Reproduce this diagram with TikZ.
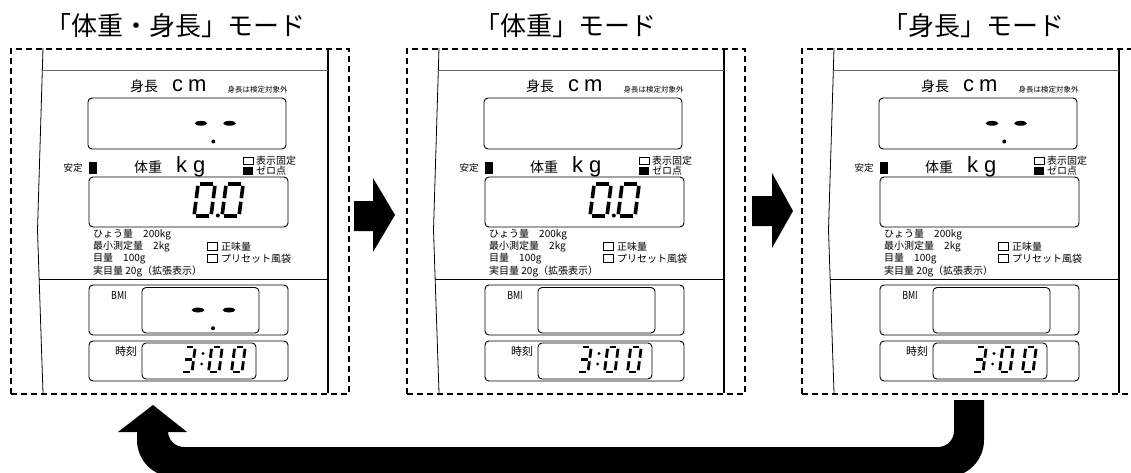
\documentclass[tikz,border=0pt]{standalone}
\usepackage{fontspec}
\setmainfont{Noto Sans CJK JP}
\newfontfamily\lat{Liberation Sans}
\newcommand\fs[1]{\fontsize{#1}{#1}\selectfont}
% seven segment helpers
\def\sslant{0.13}
\def\sgap{1.8}
\def\sga{\draw[sg] ({\sgap+\sslant*\SH},\SH) -- ({\SW-\sgap+\sslant*\SH},\SH);}
\def\sgb{\draw[sg] ({\SW+\sslant*(\SH-\sgap)},{\SH-\sgap}) -- ({\SW+\sslant*(\SH/2+\sgap)},{\SH/2+\sgap});}
\def\sgc{\draw[sg] ({\SW+\sslant*(\SH/2-\sgap)},{\SH/2-\sgap}) -- ({\SW+\sslant*\sgap},\sgap);}
\def\sgd{\draw[sg] (\sgap,0) -- ({\SW-\sgap},0);}
\def\sge{\draw[sg] ({\sslant*\sgap},\sgap) -- ({\sslant*(\SH/2-\sgap)},{\SH/2-\sgap});}
\def\sgf{\draw[sg] ({\sslant*(\SH/2+\sgap)},{\SH/2+\sgap}) -- ({\sslant*(\SH-\sgap)},{\SH-\sgap});}
\def\sgg{\draw[sg] ({\sgap+\sslant*\SH/2},{\SH/2}) -- ({\SW-\sgap+\sslant*\SH/2},{\SH/2});}
\newcommand\sseg[6]{%
  \begin{scope}[shift={(#1,#2)},yscale=-1,line width=#5pt]
  \def\SW{#3}\def\SH{#4}#6
  \end{scope}}
\newcommand\dashdot[4]{% x1, x2, y, dot x
  \fill (#1,#3) ellipse[x radius=6.3pt, y radius=2.4pt];
  \fill (#2,#3) ellipse[x radius=6.3pt, y radius=2.4pt];
  \fill (#4,{#3+18.2}) circle[radius=2pt];}
\newcommand\panel[5]{% xshift, suffix, height shown, weight shown, bmi shown
 \begin{scope}[xshift=#1]
  \node[frame] (p#2) at (10,48) {};
  \draw[line width=0.8pt] (43,48) -- (37.5,230) -- (43,393);
  \draw[line width=1.8pt] (328,48) -- (328,393);
  \draw[line width=0.9pt, black!60] (42.6,70) -- (328,70);
  \draw[line width=0.9pt] (39.3,279) -- (328,279);
  % height
  \node[inner sep=0, anchor=base west] (hl#2) at (130,92) {\fs{14}身長\hspace{14pt}{\lat\fs{22}c\hspace{5pt}m}};
  \node[inner sep=0] (hn#2) at (257.5,90) {\fs{7.5}身長は検定対象外};
  \draw[box] (88,98) rectangle (286,149);
  \ifnum#3=1 \dashdot{201}{229.5}{123.3}{213.3}\fi
  % weight
  \node[inner sep=0] (st#2) at (73,168) {\fs{9.5}安定};
  \fill (88.5,162) rectangle (97.3,174.3);
  \node[inner sep=0, anchor=base west] (wl#2) at (134,172) {\fs{14}体重\hspace{14pt}{\lat\fs{22}k\hspace{6pt}g}};
  \draw[line width=0.8pt, fill=white] (243,157) rectangle (253,164);
  \fill (243,167) rectangle (253,175);
  \node[txt] (hk#2) at (256,160.5) {\fs{10}表示固定};
  \node[txt] (zr#2) at (256,171) {\fs{10}ゼロ点};
  \draw[box] (89,177) rectangle (288,227);
  \ifnum#4=1
   \sseg{194}{216}{17}{32}{3.6}{\sga\sgb\sgc\sgd\sge\sgf}
   \sseg{222}{216}{17}{32}{3.6}{\sga\sgb\sgc\sgd\sge\sgf}
   \fill (217.8,215.5) circle[radius=2pt];
  \fi
  \node[txt] (c1#2) at (93,235) {\fs{10}ひょう量　200kg};
  \node[txt] (c2#2) at (93,247) {\fs{10}最小測定量　2kg};
  \node[txt] (c3#2) at (93,259) {\fs{10}目量　100g};
  \node[txt] (c4#2) at (93,271) {\fs{10}実目量 20g（拡張表示）};
  \draw[line width=0.8pt] (207,242.5) rectangle (217,250.5);
  \draw[line width=0.8pt] (207,254.5) rectangle (217,262.5);
  \node[txt] (nw#2) at (221,246.5) {\fs{10}正味量};
  \node[txt] (ps#2) at (221,258.5) {\fs{10}プリセット風袋};
  % BMI
  \draw[box] (89,285) rectangle (288,335);
  \draw[box] (142,287.5) rectangle (259,333);
  \node[inner sep=0] (bm#2) at (119,295.5) {\fs{11}\scalebox{0.8}[1]{BMI}};
  \ifnum#5=1 \dashdot{198}{229}{310}{213}\fi
  % time
  \draw[box] (89,341) rectangle (288,381);
  \draw[box] (142,343) rectangle (256,379);
  \node[inner sep=0] (tm#2) at (126,351) {\fs{11}時刻};
  \sseg{181.5}{372}{10.5}{25}{2.8}{\sga\sgb\sgc\sgd\sgg}
  \sseg{208.5}{372}{10.5}{25}{2.8}{\sga\sgb\sgc\sgd\sge\sgf}
  \sseg{231.5}{372}{10.5}{25}{2.8}{\sga\sgb\sgc\sgd\sge\sgf}
  \fill (203,353.5) circle[radius=1.6pt];
  \fill (201.6,364) circle[radius=1.6pt];
 \end{scope}}
\begin{document}
\begin{tikzpicture}[x=1pt,y=-1pt,
  frame/.style={draw, line width=1.6pt, dash pattern=on 6pt off 4pt, inner sep=0,
    minimum width=338pt, minimum height=345pt, anchor=north west},
  box/.style={draw, line width=0.9pt, rounded corners=4pt},
  txt/.style={inner sep=0, anchor=west},
  ttl/.style={inner sep=0, font=\fs{26}},
  sg/.style={line cap=butt}]
\useasboundingbox (0,0) rectangle (1131,473);
\clip (0,0) rectangle (1131,473);
\node[ttl] (t1) at (175.5,26) {「体重・身長」モード};
\node[ttl] (t2) at (565.5,26) {「体重」モード};
\node[ttl] (t3) at (973.5,26) {「身長」モード};
\panel{0}{1}{1}{1}{1}
\panel{396}{2}{0}{1}{0}
\panel{791}{3}{1}{0}{0}
% right arrows
\fill (354,201) -- (373,201) -- (373,178) -- (395,215) -- (373,252) -- (373,231) -- (354,231) -- cycle;
\fill (752,196) -- (772,196) -- (772,173) -- (793,211) -- (772,248) -- (772,226) -- (752,226) -- cycle;
% return arrow
\coordinate (rs) at (954,400);
\coordinate (rt) at (153,405);
\fill (rs) -- (984,400) -- (984,440) arc[start angle=0, end angle=-90, radius=37pt]
  -- (174,477) arc[start angle=-90, end angle=-180, radius=37pt]
  -- (137,432) -- (118,432) -- (rt) -- (187,432) -- (168,432)
  -- (168,431) arc[start angle=180, end angle=270, radius=16pt]
  -- (938,447) arc[start angle=270, end angle=360, radius=16pt] -- cycle;
\end{tikzpicture}
\end{document}
